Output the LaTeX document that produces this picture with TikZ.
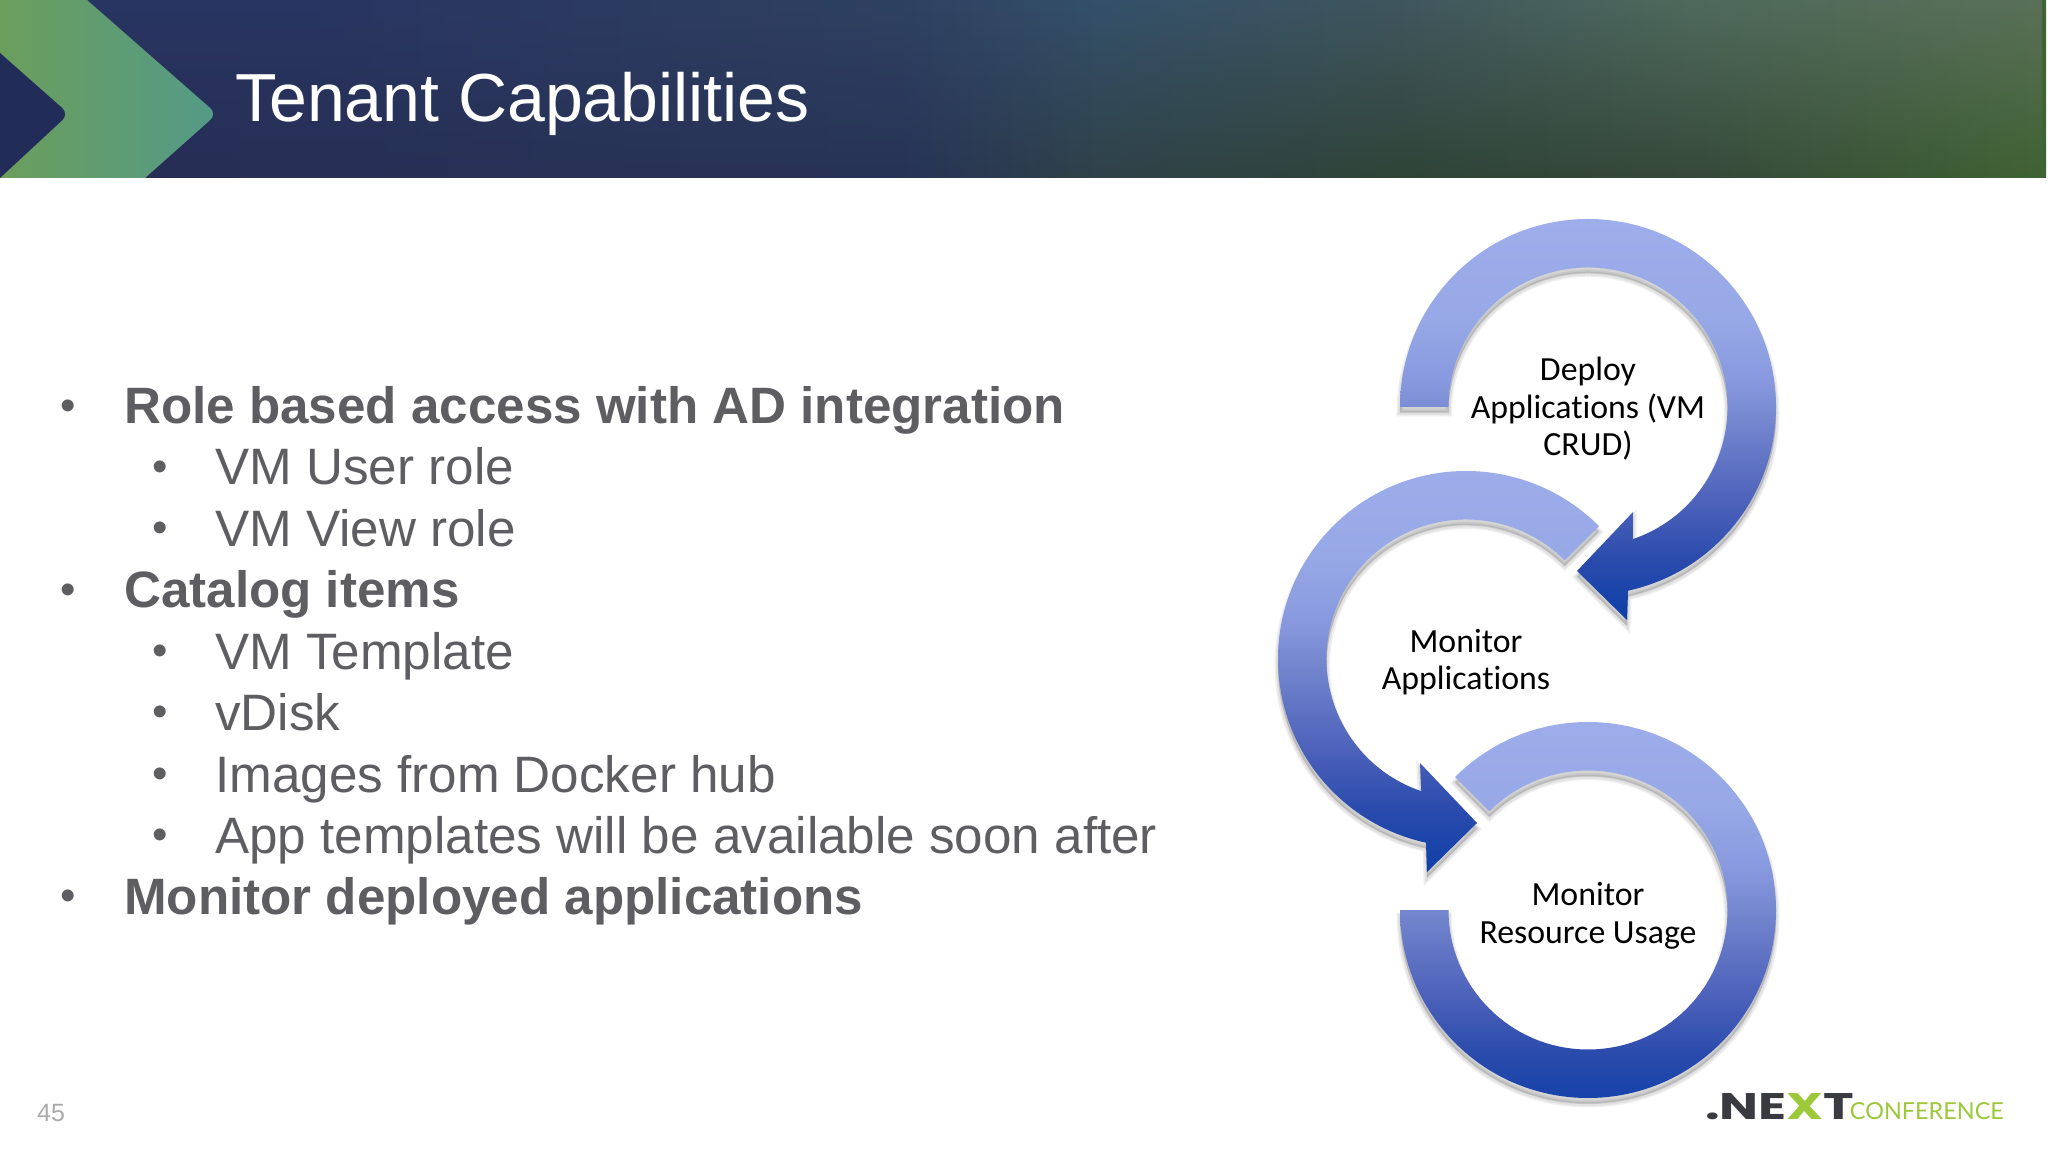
\documentclass[tikz,border=0pt]{standalone}
\usepackage{fontspec}
\setmainfont{Liberation Sans}
\newfontfamily\ringfont[Ligatures=NoCommon]{Carlito}
\newfontfamily\logofont{Poppins}
\newfontfamily\confont{Lato}
\usetikzlibrary{calc,fadings}

\definecolor{bodygray}{HTML}{5E5E62}
\definecolor{pagegray}{HTML}{ABABAB}
\definecolor{logodark}{HTML}{3A3B40}
\definecolor{logogreen}{HTML}{9CC83A}
\definecolor{navy}{HTML}{222C58}

\pgfdeclarehorizontalshading{headlow}{100bp}{
 rgb(0bp)=(.149,.176,.333); rgb(25bp)=(.149,.176,.333); rgb(47bp)=(.153,.2,.337); rgb(51.9bp)=(.184,.259,.282);
 rgb(59.2bp)=(.184,.267,.216); rgb(66.5bp)=(.212,.286,.227);
 rgb(75bp)=(.247,.388,.196); rgb(100bp)=(.247,.388,.196)}
\pgfdeclarehorizontalshading{headtop}{100bp}{
 rgb(0bp)=(.161,.208,.384); rgb(32.3bp)=(.161,.208,.384); rgb(47bp)=(.184,.255,.38); rgb(51.9bp)=(.204,.314,.416);
 rgb(59.2bp)=(.251,.337,.369); rgb(66.5bp)=(.31,.416,.361);
 rgb(75bp)=(.353,.439,.345); rgb(100bp)=(.353,.439,.345)}
\pgfdeclarehorizontalshading{chevshade}{100bp}{
 rgb(0bp)=(.42,.62,.36); rgb(25bp)=(.42,.62,.36); rgb(75bp)=(.329,.604,.533); rgb(100bp)=(.329,.604,.533)}
\pgfdeclareverticalshading{ringshade}{100bp}{
 rgb(0bp)=(.055,.247,.659); rgb(25bp)=(.055,.247,.659); rgb(32.5bp)=(.165,.294,.675); rgb(40bp)=(.306,.388,.733);
 rgb(50bp)=(.459,.529,.812); rgb(55bp)=(.533,.6,.875); rgb(62.5bp)=(.592,.659,.902);
 rgb(75bp)=(.62,.682,.922); rgb(100bp)=(.62,.682,.922)}

\tikzset{
 topitem/.style={anchor=base west, inner sep=0pt, text=bodygray, font=\fontsize{51.15}{61}\selectfont\bfseries},
 subitem/.style={anchor=base west, inner sep=0pt, text=bodygray, font=\fontsize{51.2}{61}\selectfont},
 dot/.style={text=bodygray, font=\fontsize{44}{48}\selectfont},
 ringtext/.style={align=center, text=black, font=\ringfont\fontsize{33.8}{37.5}\selectfont},
 ringback/.style={fill=black!60, draw=black!60, opacity=.1}
}

\newcommand{\ringone}{(c1) ++(180:188) arc (180:-77.7:188) -- (1627,532) -- (1577,581) -- (1633,640)
 -- ($(c1)+(-71.3:139.5)$) arc (-71.3:180:139.5) -- cycle}
\newcommand{\ringtwo}{(c2) ++(45:188) arc (45:257.7:188) -- (1427,280) -- (1477,329) -- (1420,389)
 -- ($(c2)+(251.3:139.5)$) arc (251.3:45:139.5) -- cycle}
\newcommand{\ringthree}{(c3) ++(135:188) arc (135:-180:188) -- ($(c3)+(-180:139.5)$) arc (-180:135:139.5) -- cycle}

\begin{document}
\begin{tikzpicture}[x=1pt, y=1pt]
 \useasboundingbox (0,0) rectangle (2048,1152);
 \fill[white] (0,0) rectangle (2048,1152);

 \shade[shading=headlow] (0,974) rectangle (2046,1152);
 \shade[shading=headtop, path fading=south] (0,974) rectangle (2046,1152);
 \shade[shading=chevshade] (0,1152) -- (87,1152) [rounded corners=9pt] -- (217,1038) [sharp corners] -- (145,974) -- (0,974) -- cycle;
 \fill[navy] (0,1099) [rounded corners=9pt] -- (69,1038) [sharp corners] -- (0,974) -- cycle;
 \node[anchor=base west, inner sep=0pt, text=white, font=\fontsize{68}{80}\selectfont] (title) at (235,1030) {Tenant Capabilities};

 \foreach \i/\x/\y in {1/68/742, 2/160/681, 3/160/620, 4/68/558, 5/160/497, 6/160/436, 7/160/374, 8/160/313, 9/68/252}
  \node[dot] (b\i) at (\x,\y) {•};

 \node[topitem] (t1) at (124,728) {Role based access with AD integration};
 \node[subitem] (t2) at (215,667) {VM User role};
 \node[subitem] (t3) at (215,605) {VM View role};
 \node[topitem] (t4) at (124,544) {Catalog items};
 \node[subitem] (t5) at (215,482) {VM Template};
 \node[subitem] (t6) at (215,421) {vDisk};
 \node[subitem] (t7) at (215,359) {Images from Docker hub};
 \node[subitem] (t8) at (215,298) {App templates will be available soon after};
 \node[topitem] (t9) at (124,237) {Monitor deployed applications};

 \coordinate (c1) at (1588,745);
 \coordinate (c2) at (1466,493);
 \coordinate (c3) at (1588,242);

 \foreach \w/\s in {7/6, 4/6, 1/5} {
  \filldraw[ringback, line width=\w pt, transform canvas={yshift=-\s pt}] \ringone;
  \filldraw[ringback, line width=\w pt, transform canvas={yshift=-\s pt}] \ringtwo;
  \filldraw[ringback, line width=\w pt, transform canvas={yshift=-\s pt}] \ringthree;
 }
 \shade[shading=ringshade] \ringone;
 \shade[shading=ringshade] \ringtwo;
 \shade[shading=ringshade] \ringthree;

 \node[ringtext, yshift=-2pt] (deploy) at (c1) {Deploy\\Applications (VM\\CRUD)};
 \node[ringtext, yshift=-3pt] (apps)   at (c2) {Monitor\\Applications};
 \node[ringtext, yshift=-6pt] (usage)  at (c3) {Monitor\\Resource Usage};

 \node[anchor=base west, inner sep=0pt, text=pagegray, font=\fontsize{25}{28}\selectfont] (page) at (37,31) {45};
 \node[anchor=base west, inner sep=0pt, font=\logofont\bfseries\fontsize{37}{40}\selectfont] (next) at (1705,33) {\scalebox{1.4}[1]{\textcolor{logodark}{.NE}\textcolor{logogreen}{X}\textcolor{logodark}{T}}};
 \node[anchor=base east, inner sep=0pt, text=logogreen, font=\confont\fontsize{23.4}{26}\selectfont] (conf) at (2004,33) {CONFERENCE};
\end{tikzpicture}
\end{document}
